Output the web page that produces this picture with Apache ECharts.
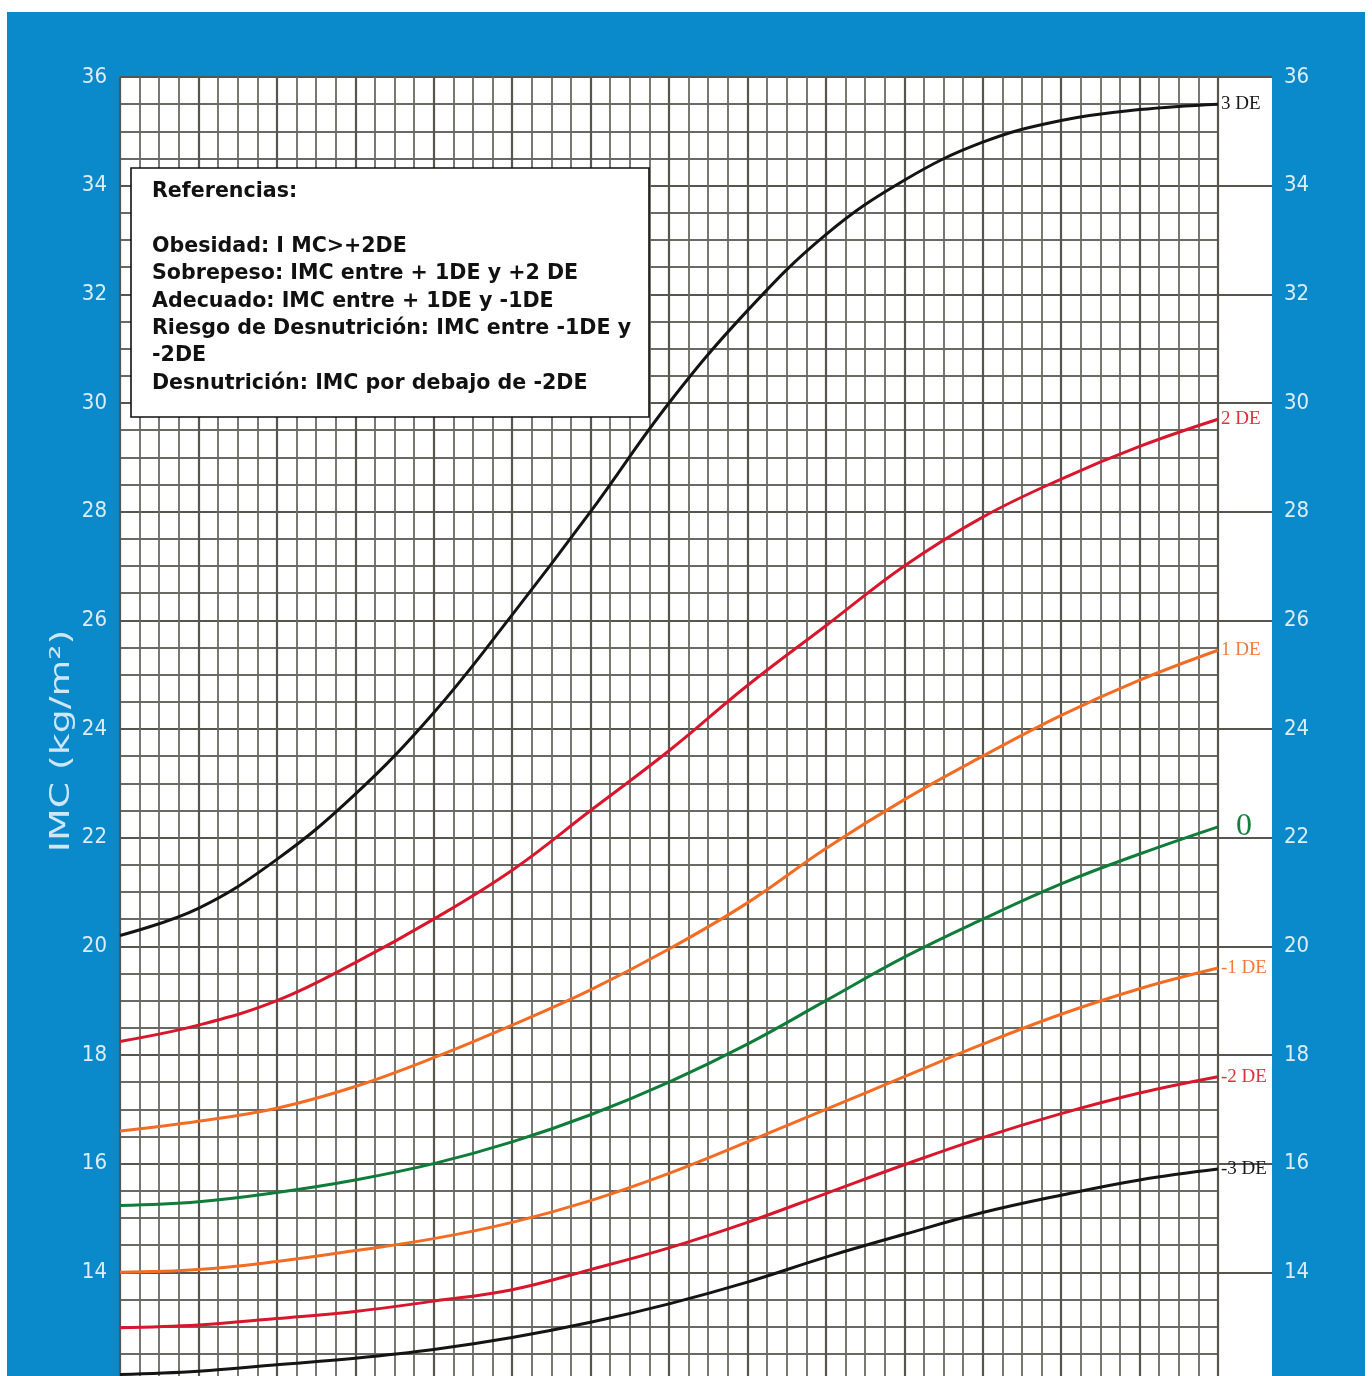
<!DOCTYPE html>
<html>
<head>
<meta charset="utf-8">
<script src="https://cdn.jsdelivr.net/npm/echarts@6/dist/echarts.min.js"></script>
<style>
html,body{margin:0;padding:0;background:#fff;overflow:hidden;}
#chart{width:1372px;height:1400px;}
</style>
</head>
<body>
<div id="chart"></div>
<script>
// Age in years (x) and BMI z-score curves (IMC kg/m2)
var ages   = [5, 6, 7, 8, 9, 10, 11, 12, 13, 14, 15, 16, 17, 18, 19];
var sdP3   = [20.2, 20.7, 21.6, 22.8, 24.3, 26.1, 28.0, 30.0, 31.7, 33.1, 34.1, 34.8, 35.2, 35.4, 35.5];
var sdP2   = [18.25, 18.55, 19.0, 19.7, 20.5, 21.4, 22.5, 23.6, 24.8, 25.9, 27.0, 27.9, 28.6, 29.2, 29.7];
var sdP1   = [16.6, 16.78, 17.02, 17.42, 17.95, 18.55, 19.2, 19.95, 20.8, 21.8, 22.7, 23.5, 24.25, 24.9, 25.45];
var sd0    = [15.23, 15.3, 15.47, 15.7, 16.0, 16.4, 16.9, 17.5, 18.2, 19.0, 19.8, 20.5, 21.15, 21.7, 22.2];
var sdM1   = [14.0, 14.05, 14.2, 14.4, 14.62, 14.92, 15.32, 15.82, 16.4, 17.0, 17.6, 18.2, 18.75, 19.22, 19.6];
var sdM2   = [12.98, 13.03, 13.15, 13.28, 13.47, 13.68, 14.05, 14.45, 14.92, 15.45, 15.98, 16.48, 16.92, 17.3, 17.6];
var sdM3   = [12.12, 12.18, 12.3, 12.42, 12.58, 12.8, 13.08, 13.42, 13.82, 14.28, 14.7, 15.1, 15.42, 15.7, 15.9];
var curveLabels = ['3 DE', '2 DE', '1 DE', '0', '-1 DE', '-2 DE', '-3 DE'];
var yAxisTitle = 'IMC (kg/m²)';
var referenceText = [
  'Referencias:',
  '',
  'Obesidad: I MC>+2DE',
  'Sobrepeso: IMC entre + 1DE y +2 DE',
  'Adecuado: IMC entre + 1DE y -1DE',
  'Riesgo de Desnutrición: IMC entre -1DE y',
  '-2DE',
  'Desnutrición: IMC por debajo de -2DE'
];

var curves = [sdP3, sdP2, sdP1, sd0, sdM1, sdM2, sdM3];
var colors = ['#141414', '#d8172c', '#f36c23', '#0f7c3a', '#f36c23', '#d8172c', '#141414'];
var labelColors = ['#1a1a1a', '#e0303c', '#f47a3a', '#13803e', '#f47a3a', '#e0303c', '#1a1a1a'];

function pairs(vals) {
  return ages.map(function (a, i) { return [a, vals[i]]; });
}

var series = curves.map(function (vals, k) {
  var isZero = curveLabels[k] === '0';
  return {
    type: 'line',
    name: curveLabels[k],
    data: pairs(vals),
    smooth: 0.4,
    symbol: 'none',
    silent: true,
    z: 5,
    lineStyle: { color: colors[k], width: 3 },
    endLabel: {
      show: true,
      formatter: curveLabels[k],
      color: labelColors[k],
      fontFamily: "'Liberation Serif', 'DejaVu Serif', serif",
      fontSize: isZero ? 32 : 19,
      distance: isZero ? 18 : 3
    }
  };
});

var gridLineDark = '#56564f';
var gridLineMinor = '#6a6a64';
var labelFont = "'Liberation Sans Narrow', 'DejaVu Sans Condensed', 'Liberation Sans', sans-serif";

var chart = echarts.init(document.getElementById('chart'), null, { renderer: 'canvas' });
chart.setOption({
  backgroundColor: '#ffffff',
  animation: false,
  grid: { left: 120, right: 154, top: 77, bottom: 19, containLabel: false, outerBoundsMode: 'none' },
  xAxis: {
    type: 'value',
    min: 5, max: 19, interval: 1,
    axisLine: { show: false },
    axisTick: { show: false },
    axisLabel: { show: false },
    splitLine: { show: true, lineStyle: { color: gridLineDark, width: 2.2 } },
    minorTick: { show: false, splitNumber: 4 },
    minorSplitLine: { show: true, lineStyle: { color: gridLineMinor, width: 1.8 } }
  },
  yAxis: [
    {
      type: 'value',
      position: 'left',
      min: 12, max: 36, interval: 2,
      axisLine: { show: false },
      axisTick: { show: false },
      axisLabel: {
        color: '#dcedf8',
        fontSize: 22,
        margin: 13,
        showMinLabel: false,
        fontFamily: labelFont
      },
      splitLine: { show: true, lineStyle: { color: gridLineDark, width: 2.2 } },
      minorTick: { show: false, splitNumber: 4 },
      minorSplitLine: { show: true, lineStyle: { color: gridLineMinor, width: 2 } }
    },
    {
      type: 'value',
      position: 'right',
      offset: 54,
      min: 12, max: 36, interval: 2,
      axisLine: { show: false },
      axisTick: { show: true, inside: true, length: 54, lineStyle: { color: gridLineDark, width: 2.2 } },
      axisLabel: {
        color: '#dcedf8',
        fontSize: 22,
        margin: 12,
        align: 'left',
        showMinLabel: false,
        fontFamily: labelFont
      },
      splitLine: { show: false }
    }
  ],
  graphic: [
    {
      type: 'rect', z: -100, silent: true,
      shape: { x: 7, y: 12, width: 1358, height: 1400 },
      style: { fill: '#0a89cb' }
    },
    {
      type: 'rect', z: -90, silent: true,
      shape: { x: 120, y: 77, width: 1152, height: 1400 },
      style: { fill: '#ffffff' }
    },
    {
      type: 'text', z: 10, silent: true,
      x: 62, y: 741, rotation: Math.PI / 2, scaleX: 1.4, scaleY: 1,
      style: {
        text: yAxisTitle,
        fill: '#cfe6f6',
        fontSize: 27,
        fontFamily: "'DejaVu Sans', Verdana, sans-serif",
        align: 'center',
        verticalAlign: 'middle'
      }
    },
    {
      type: 'group', z: 100, x: 131, y: 168,
      children: [
        {
          type: 'rect', z: 100,
          shape: { x: 0, y: 0, width: 518, height: 249 },
          style: { fill: '#ffffff', stroke: '#111111', lineWidth: 1.6 }
        },
        {
          type: 'text', z: 101, x: 21, y: 10,
          style: {
            text: referenceText.join('\n'),
            fill: '#111111',
            fontSize: 20.6,
            fontWeight: 'bold',
            fontFamily: "'DejaVu Sans', Verdana, sans-serif",
            lineHeight: 27.4,
            align: 'left',
            verticalAlign: 'top'
          }
        }
      ]
    }
  ],
  series: series
});
</script>
</body>
</html>
